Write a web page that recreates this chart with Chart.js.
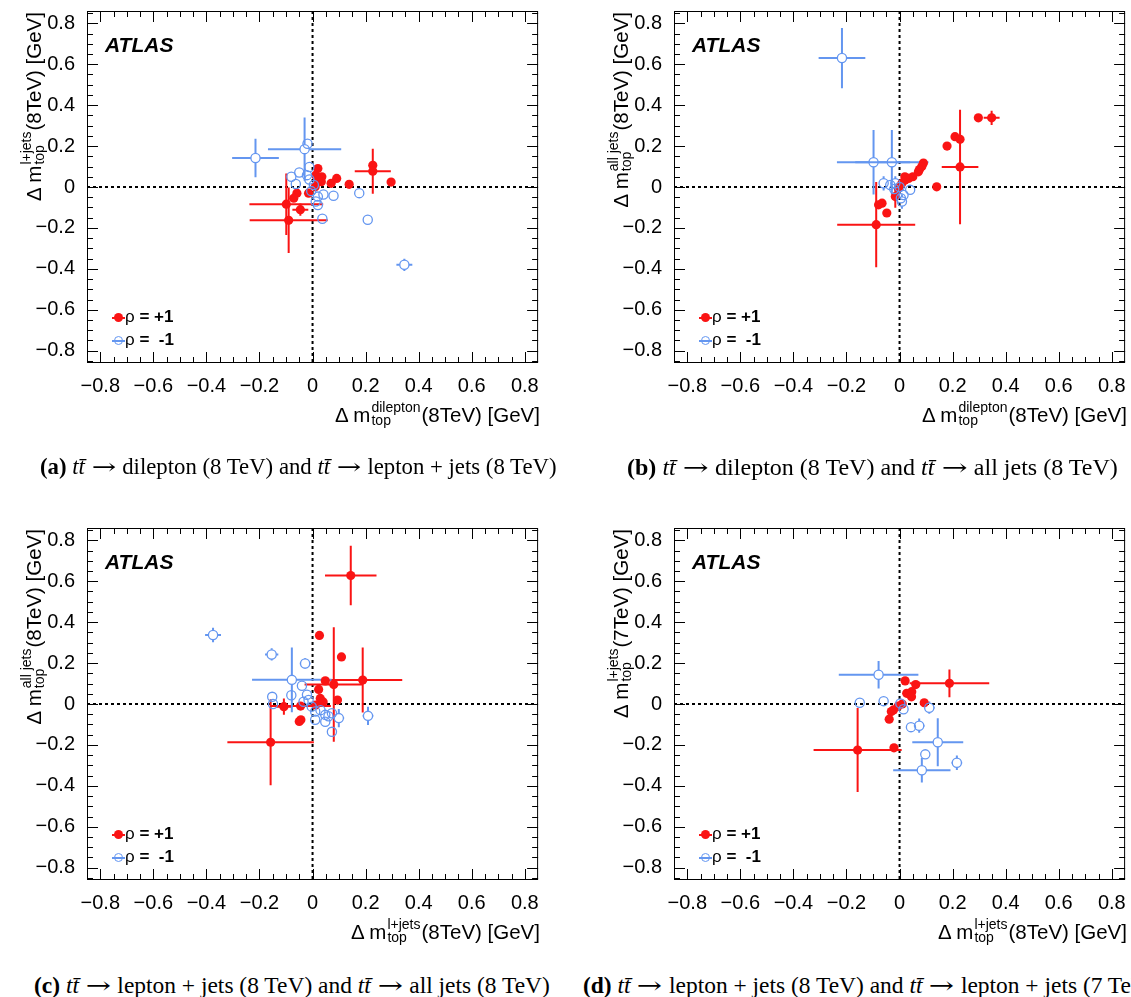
<!DOCTYPE html>
<html><head><meta charset="utf-8">
<script src="https://cdn.jsdelivr.net/npm/chart.js@4.4.1/dist/chart.umd.min.js"></script>
<style>
html,body{margin:0;padding:0;background:#fff;overflow:hidden;width:1131px;height:997px;position:relative}
canvas{position:absolute;display:block}
.sans{font-family:"Liberation Sans",Arial,Helvetica,sans-serif;color:#000}
.xt{position:absolute;width:400px;height:30px;line-height:30px;font-size:20.5px;text-align:right;white-space:nowrap}
.yt{position:absolute;width:300px;height:30px;line-height:30px;font-size:20.5px;text-align:right;white-space:nowrap;transform-origin:0 0;transform:rotate(-90deg)}
.ss{display:inline-block;font-size:14px;line-height:13px;vertical-align:-3px;text-align:left;margin:0 1px}
.ss span{display:block}
.atlas{position:absolute;font-size:21px;line-height:21px;font-weight:bold;font-style:italic;white-space:nowrap}
.leg{position:absolute;font-size:17px;line-height:23px;white-space:nowrap}
.leg b{font-weight:bold}
.mk{display:inline-block;position:relative;width:13px;height:10px;vertical-align:middle}
.mk::before{content:'';position:absolute;left:0;right:0;top:4px;height:2px}
.mk::after{content:'';position:absolute;left:2px;top:0;width:9px;height:9px;border-radius:50%;box-sizing:border-box}
.mk.r::before{background:rgb(250,20,20)}
.mk.r::after{background:rgb(250,20,20)}
.mk.b::before{background:rgb(100,150,240)}
.mk.b::after{border:1.3px solid rgb(100,150,240);background:transparent}
.cap{position:absolute;font-family:"Liberation Serif","Times New Roman",serif;font-size:20px;white-space:nowrap;display:inline-block;line-height:1.2}
.arr{display:inline-block;font-family:"DejaVu Serif",serif;transform:scaleX(1.35);margin:0 0.18em;font-size:0.95em}
</style>
</head><body>
<canvas id="ca" width="544" height="400" style="left:0;top:0"></canvas>
<canvas id="cb" width="544" height="400" style="left:587px;top:0"></canvas>
<canvas id="cc" width="544" height="400" style="left:0;top:517px"></canvas>
<canvas id="cd" width="544" height="400" style="left:587px;top:517px"></canvas>

<div class="xt sans" style="left:140px;top:400px">Δ m<span class="ss"><span>dilepton</span><span>top</span></span>(8TeV) [GeV]</div>
<div class="xt sans" style="left:727px;top:400px">Δ m<span class="ss"><span>dilepton</span><span>top</span></span>(8TeV) [GeV]</div>
<div class="xt sans" style="left:140px;top:917px">Δ m<span class="ss"><span>l+jets</span><span>top</span></span>(8TeV) [GeV]</div>
<div class="xt sans" style="left:727px;top:917px">Δ m<span class="ss"><span>l+jets</span><span>top</span></span>(8TeV) [GeV]</div>

<div class="yt sans" style="left:19px;top:312px">Δ m<span class="ss"><span>l+jets</span><span>top</span></span>(8TeV) [GeV]</div>
<div class="yt sans" style="left:606px;top:312px">Δ m<span class="ss"><span>all jets</span><span>top</span></span>(8TeV) [GeV]</div>
<div class="yt sans" style="left:19px;top:829px">Δ m<span class="ss"><span>all jets</span><span>top</span></span>(8TeV) [GeV]</div>
<div class="yt sans" style="left:606px;top:829px">Δ m<span class="ss"><span>l+jets</span><span>top</span></span>(7TeV) [GeV]</div>

<div class="atlas sans" style="left:105px;top:34px">ATLAS</div>
<div class="atlas sans" style="left:692px;top:34px">ATLAS</div>
<div class="atlas sans" style="left:105px;top:551px">ATLAS</div>
<div class="atlas sans" style="left:692px;top:551px">ATLAS</div>

<div class="leg sans" style="left:112px;top:305px"><div><span class="mk r"></span>ρ <b>= +1</b></div><div><span class="mk b"></span>ρ <b>=&nbsp;&nbsp;-1</b></div></div>
<div class="leg sans" style="left:699px;top:305px"><div><span class="mk r"></span>ρ <b>= +1</b></div><div><span class="mk b"></span>ρ <b>=&nbsp;&nbsp;-1</b></div></div>
<div class="leg sans" style="left:112px;top:822px"><div><span class="mk r"></span>ρ <b>= +1</b></div><div><span class="mk b"></span>ρ <b>=&nbsp;&nbsp;-1</b></div></div>
<div class="leg sans" style="left:699px;top:822px"><div><span class="mk r"></span>ρ <b>= +1</b></div><div><span class="mk b"></span>ρ <b>=&nbsp;&nbsp;-1</b></div></div>

<div class="cap" id="capa"><b>(a)</b> <i>tt̄</i> <span class="arr">→</span> dilepton (8 TeV) and <i>tt̄</i> <span class="arr">→</span> lepton + jets (8 TeV)</div>
<div class="cap" id="capb"><b>(b)</b> <i>tt̄</i> <span class="arr">→</span> dilepton (8 TeV) and <i>tt̄</i> <span class="arr">→</span> all jets (8 TeV)</div>
<div class="cap" id="capc"><b>(c)</b> <i>tt̄</i> <span class="arr">→</span> lepton + jets (8 TeV) and <i>tt̄</i> <span class="arr">→</span> all jets (8 TeV)</div>
<div class="cap" id="capd"><b>(d)</b> <i>tt̄</i> <span class="arr">→</span> lepton + jets (8 TeV) and <i>tt̄</i> <span class="arr">→</span> lepton + jets (7 TeV)</div>

<script>
// ---- data: [x, y, xErr, yErr] in GeV ----
const A_RED = [
  [0.227,0.106,0,0],[0.227,0.077,0.068,0.11],[0.296,0.024,0,0],[0.138,0.013,0,0],
  [0.091,0.042,0,0],[0.070,0.018,0,0],[0.035,0.050,0,0],[0.033,0.026,0,0],
  [0.012,0.058,0,0],[0.020,0.090,0,0],[0.010,0.001,0,0],[0.020,0.035,0,0],
  [-0.015,-0.030,0,0],[-0.059,-0.030,0,0],[-0.071,-0.055,0,0],
  [-0.099,-0.084,0.139,0.15],[-0.090,-0.163,0.147,0.16],[-0.046,-0.111,0.03,0.03]
];
const A_BLUE = [
  [-0.215,0.142,0.088,0.094],[-0.030,0.185,0.138,0.155],[-0.019,0.211,0,0],
  [-0.050,0.071,0,0],[-0.080,0.050,0,0],[-0.012,0.098,0,0],[-0.021,0.058,0,0],
  [-0.012,0.037,0,0],[-0.063,0.015,0,0],[0.041,-0.037,0,0],[0.079,-0.043,0,0],
  [0.176,-0.030,0,0],[0.020,-0.047,0,0],[0.012,-0.071,0,0],[0.020,-0.088,0,0],
  [0.037,-0.155,0,0],[0.208,-0.160,0,0],[0.346,-0.380,0.03,0.03],
  [0.005,0.010,0,0],[-0.005,-0.020,0,0]
];
const B_RED = [
  [0.297,0.338,0,0],[0.347,0.338,0.03,0.035],[0.209,0.246,0,0],[0.228,0.233,0,0],
  [0.179,0.200,0,0],[0.228,0.098,0.069,0.28],[0.140,0.001,0,0],[0.090,0.117,0,0],
  [0.084,0.100,0,0],[0.075,0.085,0,0],[0.071,0.074,0,0],[0.050,0.050,0,0],
  [0.034,0.042,0,0],[0.021,0.034,0,0],[0.009,0.018,0,0],[0.020,0.050,0,0],
  [-0.004,-0.006,0,0],[-0.016,-0.047,0.01,0.055],[-0.066,-0.079,0,0],
  [-0.079,-0.087,0,0],[-0.048,-0.127,0,0],[-0.088,-0.184,0.147,0.208]
];
const B_BLUE = [
  [-0.217,0.630,0.088,0.147],[-0.098,0.121,0.138,0.158],[-0.029,0.121,0.138,0.158],
  [-0.060,0.018,0,0.035],[-0.035,0.010,0,0],[-0.016,0.018,0,0.035],[0.040,-0.014,0,0],
  [0.015,-0.039,0,0],[0.009,-0.071,0,0.035],[0.005,-0.055,0,0],[-0.020,-0.010,0,0],
  [0.000,0.000,0,0]
];
const C_RED = [
  [0.144,0.628,0.097,0.145],[0.026,0.335,0,0],[0.109,0.230,0,0],[0.189,0.117,0.149,0.159],
  [0.080,0.095,0.11,0.28],[0.048,0.113,0,0],[0.023,0.071,0,0],[0.094,0.019,0,0],
  [0.029,0.027,0,0],[0.012,-0.005,0,0],[0.040,0.010,0,0],[-0.108,-0.013,0.03,0.04],
  [-0.045,-0.010,0.114,0],[-0.050,-0.085,0,0],[-0.044,-0.077,0,0],
  [-0.158,-0.187,0.163,0.21]
];
const C_BLUE = [
  [-0.375,0.337,0.03,0.035],[-0.154,0.242,0.025,0.03],[-0.028,0.198,0.02,0.025],
  [-0.078,0.118,0.15,0.158],[-0.040,0.089,0,0],[-0.152,0.035,0,0],[-0.149,0.000,0,0],
  [-0.080,0.043,0,0],[-0.021,0.045,0,0],[-0.034,0.011,0,0],[-0.003,-0.013,0,0],
  [0.010,-0.037,0,0],[0.048,-0.053,0,0],[0.010,-0.077,0,0],[0.048,-0.087,0,0],
  [0.073,-0.136,0,0],[0.099,-0.069,0.02,0.045],[0.073,-0.045,0,0],
  [0.209,-0.058,0.02,0.045],[0.030,-0.030,0,0],[-0.015,0.020,0,0],[0.060,-0.060,0,0]
];
const D_RED = [
  [0.188,0.101,0.15,0.068],[0.061,0.095,0,0],[0.021,0.113,0,0],[0.046,0.060,0,0],
  [0.027,0.052,0,0],[0.045,0.035,0,0],[0.093,0.006,0,0],[0.010,0.000,0,0],
  [-0.005,-0.010,0,0],[-0.023,-0.029,0,0],[-0.031,-0.037,0,0],[-0.039,-0.074,0,0],
  [-0.021,-0.214,0,0],[-0.158,-0.225,0.166,0.205]
];
const D_BLUE = [
  [-0.079,0.143,0.15,0.067],[-0.150,0.006,0,0],[-0.060,0.014,0,0],[0.003,0.003,0,0],
  [0.015,-0.026,0,0],[0.112,-0.018,0.02,0.03],[0.043,-0.113,0,0],[0.074,-0.106,0.02,0.035],
  [0.144,-0.187,0.096,0.117],[0.097,-0.246,0,0],[0.216,-0.287,0.02,0.035],
  [0.084,-0.324,0.108,0.06]
];
const X_RANGE = [-0.85, 0.85];
const Y_RANGE = [-0.86, 0.86];
const TICK_STEP = 0.2;
const MINOR_STEP = 0.05;

const RED = 'rgb(250,20,20)';
const BLUE = 'rgb(100,150,240)';
const FONT = '"Liberation Sans", Arial, Helvetica, sans-serif';
const MR = 4.6; // marker radius

function toPts(arr){ return arr.map(p => ({x:p[0], y:p[1], xe:p[2], ye:p[3]})); }
function fmt(v){ if (Math.abs(v) < 1e-9) return '0'; return (v < 0 ? '\u2212' : '') + Math.abs(v).toFixed(1); }

const atlasPlugin = {
  id: 'atlasDeco',
  beforeDatasetsDraw(chart){
    const {ctx, chartArea:a, scales:{x, y}} = chart;
    ctx.save();
    ctx.beginPath(); ctx.rect(a.left, a.top, a.right - a.left, a.bottom - a.top); ctx.clip();
    const x0 = x.getPixelForValue(0), y0 = y.getPixelForValue(0);
    ctx.strokeStyle = '#000'; ctx.lineWidth = 2; ctx.setLineDash([3,3]);
    ctx.beginPath(); ctx.moveTo(x0, a.top); ctx.lineTo(x0, a.bottom); ctx.stroke();
    ctx.beginPath(); ctx.moveTo(a.left, y0); ctx.lineTo(a.right, y0); ctx.stroke();
    ctx.setLineDash([]);
    const dss = chart.data.datasets.slice().sort((p,q) => q.order - p.order);
    dss.forEach(ds => {
      ctx.strokeStyle = ds.errColor; ctx.lineWidth = 2;
      const g = ds.hollow ? MR : 0;
      ds.data.forEach(p => {
        const px = x.getPixelForValue(p.x), py = y.getPixelForValue(p.y);
        ctx.beginPath();
        if (p.xe > 0){
          const l = x.getPixelForValue(p.x - p.xe), r = x.getPixelForValue(p.x + p.xe);
          if (px - l > g){ ctx.moveTo(l, py); ctx.lineTo(px - g, py); }
          if (r - px > g){ ctx.moveTo(px + g, py); ctx.lineTo(r, py); }
        }
        if (p.ye > 0){
          const t = y.getPixelForValue(p.y + p.ye), b = y.getPixelForValue(p.y - p.ye);
          if (py - t > g){ ctx.moveTo(px, t); ctx.lineTo(px, py - g); }
          if (b - py > g){ ctx.moveTo(px, py + g); ctx.lineTo(px, b); }
        }
        ctx.stroke();
      });
    });
    ctx.restore();
  },
  afterDraw(chart){
    const {ctx, chartArea:a, scales:{x, y}} = chart;
    ctx.save();
    ctx.strokeStyle = '#000'; ctx.lineWidth = 1;
    ctx.strokeRect(a.left + 0.5, a.top + 0.5, a.right - a.left - 1, a.bottom - a.top - 1);
    ctx.beginPath();
    const nMaj = Math.round(TICK_STEP / MINOR_STEP);
    for (let k = -40; k <= 40; k++){
      const v = k * MINOR_STEP;
      const len = (k % nMaj === 0) ? 11 : 6;
      if (v > X_RANGE[0] + 1e-6 && v < X_RANGE[1] - 1e-6){
        const px = Math.round(x.getPixelForValue(v)) + 0.5;
        ctx.moveTo(px, a.bottom); ctx.lineTo(px, a.bottom - len);
        ctx.moveTo(px, a.top); ctx.lineTo(px, a.top + len);
      }
      if (v > Y_RANGE[0] + 1e-6 && v < Y_RANGE[1] - 1e-6){
        const py = Math.round(y.getPixelForValue(v)) + 0.5;
        ctx.moveTo(a.left, py); ctx.lineTo(a.left + len, py);
        ctx.moveTo(a.right, py); ctx.lineTo(a.right - len, py);
      }
    }
    ctx.stroke();
    ctx.restore();
  }
};

function makeChart(id, red, blue){
  return new Chart(document.getElementById(id), {
    type: 'scatter',
    data: { datasets: [
      { label: 'ρ = -1', data: toPts(blue), order: 0, hollow: true, errColor: BLUE,
        pointStyle: 'circle', pointRadius: MR, pointBorderWidth: 1.3,
        pointBorderColor: BLUE, pointBackgroundColor: 'rgba(0,0,0,0)' },
      { label: 'ρ = +1', data: toPts(red), order: 1, hollow: false, errColor: RED,
        pointStyle: 'circle', pointRadius: MR, pointBorderWidth: 0,
        pointBorderColor: RED, pointBackgroundColor: RED }
    ]},
    options: {
      responsive: false, animation: false, events: [],
      layout: { padding: { top: 11, right: 4, left: 0, bottom: 0 } },
      plugins: { legend: { display: false }, tooltip: { enabled: false } },
      scales: {
        x: { type: 'linear', min: X_RANGE[0], max: X_RANGE[1],
             grid: { display: false }, border: { display: false },
             ticks: { stepSize: TICK_STEP, includeBounds: false, autoSkip: false, maxRotation: 0,
                      padding: 3, color: '#000', font: { family: FONT, size: 20 }, callback: fmt },
             afterFit(s){ s.height = 37; s.paddingLeft = 0; s.paddingRight = 0; } },
        y: { type: 'linear', min: Y_RANGE[0], max: Y_RANGE[1],
             grid: { display: false }, border: { display: false },
             ticks: { stepSize: TICK_STEP, includeBounds: false, autoSkip: false,
                      padding: 4, color: '#000', font: { family: FONT, size: 20 }, callback: fmt },
             afterFit(s){ s.width = 87; s.paddingTop = 0; s.paddingBottom = 0; } }
      }
    },
    plugins: [atlasPlugin]
  });
}

makeChart('ca', A_RED, A_BLUE);
makeChart('cb', B_RED, B_BLUE);
makeChart('cc', C_RED, C_BLUE);
makeChart('cd', D_RED, D_BLUE);

function placeCaps(){
  const specs = [['capa',40,557,467],['capb',627,1118,467],['capc',34,550,985]];
  let fsC = 20;
  specs.forEach(([id,l,r,cy]) => {
    const el = document.getElementById(id);
    el.style.fontSize = '20px';
    const w = el.getBoundingClientRect().width;
    const fs = 20 * (r - l) / w;
    el.style.fontSize = fs + 'px';
    if (id === 'capc') fsC = fs;
    const h = el.getBoundingClientRect().height;
    el.style.left = l + 'px'; el.style.top = (cy - h/2) + 'px';
  });
  const d = document.getElementById('capd');
  d.style.fontSize = fsC + 'px';
  const h = d.getBoundingClientRect().height;
  d.style.left = '583px'; d.style.top = (985 - h/2) + 'px';
}
placeCaps();
if (document.fonts && document.fonts.ready) document.fonts.ready.then(placeCaps);
</script>
</body></html>
